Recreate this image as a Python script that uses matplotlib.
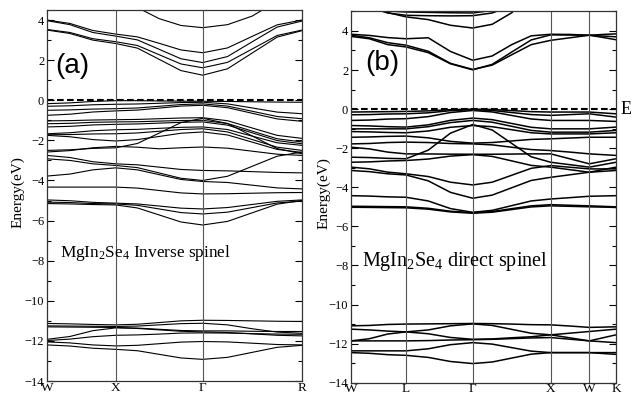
import numpy as np
import matplotlib
matplotlib.use('Agg')
import matplotlib.pyplot as plt
from matplotlib.ticker import MultipleLocator

plt.rcParams['font.family'] = ['Liberation Serif', 'DejaVu Serif']
plt.rcParams['mathtext.fontset'] = 'custom'
plt.rcParams['mathtext.rm'] = 'Liberation Serif'
plt.rcParams['mathtext.it'] = 'Liberation Serif:italic'

# ---------------- Panel (a): inverse spinel ----------------
labels_a = ['W', 'X', 'Γ', 'R']
nodes_a = [0.0, 0.687, 1.557, 2.55]
nseg_a = [3, 4, 4]

cond_a1 = [3.50, 3.33, 3.00, 2.83, 2.60, 2.04, 1.48, 1.25, 1.57, 2.36, 3.15, 3.47]
cond_a2 = [3.53, 3.38, 3.07, 2.92, 2.73, 2.27, 1.81, 1.62, 1.89, 2.56, 3.23, 3.50]
cond_a3 = [3.97, 3.77, 3.38, 3.20, 3.01, 2.54, 2.07, 1.88, 2.18, 2.92, 3.65, 3.95]
cond_a4 = [4.00, 3.83, 3.48, 3.30, 3.16, 2.84, 2.51, 2.37, 2.61, 3.19, 3.76, 4.00]
cond_a5 = [6.20, 6.10, 5.80, 5.40, 4.62, 4.07, 3.73, 3.62, 3.77, 4.20, 4.95, 5.80]

val_a1 = [-0.17, -0.13, -0.06, -0.02, -0.02, -0.035, -0.045, -0.05, -0.06, -0.075, -0.09, -0.10]
val_a2 = [-0.30, -0.275, -0.225, -0.20, -0.185, -0.15, -0.115, -0.10, -0.18, -0.385, -0.59, -0.67]
val_a3 = [-0.50, -0.48, -0.44, -0.42, -0.385, -0.30, -0.215, -0.18, -0.29, -0.55, -0.81, -0.92]
val_a4 = [-0.75, -0.695, -0.585, -0.53, -0.49, -0.39, -0.29, -0.25, -0.37, -0.65, -0.93, -1.05]
val_a5 = [-1.03, -1.015, -0.985, -0.97, -0.955, -0.92, -0.885, -0.87, -1.02, -1.385, -1.75, -1.90]
val_a6 = [-1.17, -1.15, -1.10, -1.08, -1.07, -1.04, -1.01, -1.00, -1.16, -1.54, -1.92, -2.08]
val_a7 = [-1.33, -1.30, -1.23, -1.20, -1.18, -1.14, -1.10, -1.08, -1.24, -1.625, -2.01, -2.17]
val_a8 = [-1.67, -1.62, -1.52, -1.47, -1.45, -1.40, -1.35, -1.33, -1.46, -1.79, -2.12, -2.25]
val_a9 = [-1.72, -1.71, -1.68, -1.67, -1.63, -1.545, -1.46, -1.42, -1.58, -1.96, -2.34, -2.50]
val_a10 = [-1.75, -1.82, -1.96, -2.03, -1.96, -1.805, -1.645, -1.58, -1.73, -2.09, -2.45, -2.60]
val_a11 = [-2.50, -2.47, -2.40, -2.37, -2.155, -1.635, -1.115, -0.90, -1.16, -1.785, -2.41, -2.67]
val_a12 = [-2.58, -2.51, -2.37, -2.30, -2.34, -2.42, -2.37, -2.33, -2.39, -2.54, -2.69, -2.75]
val_a13 = [-2.75, -2.855, -3.065, -3.17, -3.22, -3.335, -3.45, -3.50, -3.52, -3.56, -3.60, -3.62]
val_a14 = [-2.92, -3.00, -3.17, -3.25, -3.36, -3.625, -3.89, -4.00, -3.79, -3.29, -2.79, -2.58]
val_a15 = [-3.78, -3.68, -3.47, -3.37, -3.47, -3.71, -3.95, -4.05, -4.10, -4.235, -4.37, -4.42]
val_a16 = [-4.33, -4.33, -4.33, -4.33, -4.38, -4.50, -4.62, -4.67, -4.66, -4.635, -4.61, -4.60]
val_a17 = [-4.97, -5.01, -5.09, -5.13, -5.17, -5.275, -5.38, -5.42, -5.35, -5.195, -5.04, -4.97]
val_a18 = [-5.08, -5.10, -5.15, -5.17, -5.24, -5.42, -5.60, -5.67, -5.58, -5.35, -5.12, -5.03]
val_a19 = [-5.15, -5.17, -5.20, -5.22, -5.37, -5.72, -6.07, -6.22, -6.04, -5.61, -5.18, -5.00]

semi_a1 = [-11.13, -11.15, -11.18, -11.20, -11.17, -11.085, -11.00, -10.97, -10.98, -11.00, -11.02, -11.03]
semi_a2 = [-11.25, -11.26, -11.27, -11.28, -11.26, -11.20, -11.14, -11.12, -11.20, -11.395, -11.56, -11.62]
semi_a3 = [-11.30, -11.31, -11.32, -11.33, -11.36, -11.42, -11.48, -11.50, -11.50, -11.52, -11.53, -11.53]
semi_a4 = [-11.92, -11.78, -11.49, -11.35, -11.38, -11.45, -11.52, -11.55, -11.58, -11.65, -11.72, -11.75]
semi_a5 = [-11.98, -11.91, -11.79, -11.72, -11.70, -11.66, -11.61, -11.60, -11.61, -11.635, -11.66, -11.67]
semi_a6 = [-12.05, -12.10, -12.20, -12.25, -12.22, -12.14, -12.06, -12.03, -12.05, -12.115, -12.18, -12.20]
semi_a7 = [-12.20, -12.255, -12.365, -12.42, -12.49, -12.67, -12.85, -12.92, -12.82, -12.57, -12.32, -12.22]

bands_a = [cond_a1, cond_a2, cond_a3, cond_a4, cond_a5,
           val_a1, val_a2, val_a3, val_a4, val_a5, val_a6, val_a7, val_a8, val_a9,
           val_a10, val_a11, val_a12, val_a13, val_a14, val_a15, val_a16, val_a17,
           val_a18, val_a19,
           semi_a1, semi_a2, semi_a3, semi_a4, semi_a5, semi_a6, semi_a7]

# ---------------- Panel (b): direct spinel ----------------
labels_b = ['W', 'L', 'Γ', 'X', 'W', 'K']
nodes_b = [0.0, 0.55, 1.217, 1.997, 2.383, 2.65]
nseg_b = [3, 3, 4, 2, 2]

cond_b1 = [3.72, 3.60, 3.30, 3.18, 2.89, 2.32, 2.01, 2.29, 2.92, 3.54, 3.80, 3.79, 3.78, 3.67, 3.55]
cond_b2 = [3.78, 3.65, 3.40, 3.27, 2.96, 2.34, 2.03, 2.25, 2.78, 3.30, 3.52, 3.65, 3.78, 3.74, 3.70]
cond_b3 = [3.83, 3.77, 3.66, 3.60, 3.65, 2.95, 2.50, 2.72, 3.30, 3.75, 3.83, 3.82, 3.78, 3.82, 3.85]
cond_b4 = [5.60, 5.38, 4.94, 4.72, 4.58, 4.29, 4.15, 4.34, 4.93, 5.90, 6.50, 6.50, 6.50, 6.50, 6.50]
cond_b5 = [5.40, 5.20, 4.92, 4.80, 4.78, 4.77, 4.78, 4.92, 5.30, 5.90, 6.30, 6.30, 6.30, 6.30, 6.30]
cond_b6 = [5.30, 5.15, 5.02, 4.97, 4.95, 4.93, 4.92, 5.05, 5.50, 6.00, 6.50, 6.50, 6.50, 6.50, 6.50]

val_b1 = [-0.15, -0.14, -0.13, -0.12, -0.09, -0.03, 0.00, -0.02, -0.075, -0.13, -0.15, -0.15, -0.15, -0.195, -0.24]
val_b2 = [-0.29, -0.28, -0.25, -0.24, -0.19, -0.08, -0.03, -0.07, -0.175, -0.28, -0.32, -0.28, -0.24, -0.325, -0.41]
val_b3 = [-0.58, -0.56, -0.51, -0.49, -0.385, -0.175, -0.07, -0.145, -0.325, -0.505, -0.58, -0.58, -0.58, -0.605, -0.63]
val_b4 = [-0.84, -0.86, -0.90, -0.92, -0.805, -0.575, -0.46, -0.54, -0.735, -0.93, -1.01, -1.01, -1.01, -0.965, -0.92]
val_b5 = [-1.01, -1.01, -1.01, -1.01, -0.90, -0.69, -0.58, -0.67, -0.88, -1.09, -1.18, -1.18, -1.18, -1.135, -1.09]
val_b6 = [-1.15, -1.165, -1.195, -1.21, -1.12, -0.93, -0.84, -0.90, -1.055, -1.21, -1.27, -1.27, -1.27, -1.24, -1.21]
val_b7 = [-1.44, -1.425, -1.395, -1.38, -1.47, -1.65, -1.74, -1.71, -1.63, -1.55, -1.52, -1.48, -1.44, -1.44, -1.44]
val_b8 = [-1.78, -1.76, -1.71, -1.69, -1.71, -1.76, -1.78, -1.83, -1.95, -2.07, -2.12, -2.20, -2.29, -2.33, -2.37]
val_b9 = [-1.95, -2.035, -2.20, -2.29, -2.295, -2.305, -2.31, -2.31, -2.30, -2.29, -2.29, -2.545, -2.80, -2.67, -2.54]
val_b10 = [-2.46, -2.48, -2.52, -2.54, -2.10, -1.23, -0.79, -1.07, -1.755, -2.44, -2.72, -2.845, -2.97, -2.845, -2.72]
val_b11 = [-2.72, -2.70, -2.655, -2.63, -2.555, -2.405, -2.33, -2.42, -2.65, -2.88, -2.97, -3.10, -3.23, -3.10, -2.97]
val_b12 = [-2.97, -3.055, -3.225, -3.31, -3.45, -3.74, -3.88, -3.74, -3.385, -3.03, -2.89, -2.975, -3.06, -3.06, -3.06]
val_b13 = [-3.14, -3.20, -3.31, -3.37, -3.67, -4.26, -4.56, -4.40, -4.025, -3.65, -3.49, -3.36, -3.23, -3.185, -3.14]
val_b14 = [-4.43, -4.45, -4.49, -4.51, -4.70, -5.09, -5.28, -5.18, -4.94, -4.70, -4.60, -4.53, -4.46, -4.445, -4.43]
val_b15 = [-4.97, -4.98, -4.99, -5.00, -5.075, -5.225, -5.30, -5.24, -5.095, -4.95, -4.89, -4.92, -4.95, -4.975, -5.00]
val_b16 = [-5.02, -5.03, -5.04, -5.05, -5.12, -5.26, -5.33, -5.275, -5.14, -5.005, -4.95, -4.975, -5.00, -5.015, -5.03]

semi_b1 = [-11.09, -11.07, -11.02, -11.00, -10.99, -10.98, -10.97, -10.98, -11.0, -11.03, -11.04, -11.10, -11.17, -11.155, -11.14]
semi_b2 = [-11.26, -11.30, -11.36, -11.40, -11.30, -11.09, -10.99, -11.07, -11.27, -11.47, -11.55, -11.465, -11.38, -11.32, -11.26]
semi_b3 = [-11.86, -11.75, -11.51, -11.40, -11.495, -11.685, -11.78, -11.76, -11.70, -11.65, -11.55, -11.705, -11.86, -11.705, -11.55]
semi_b4 = [-11.86, -11.86, -11.86, -11.86, -11.845, -11.815, -11.80, -11.78, -11.745, -11.71, -11.69, -11.775, -11.86, -11.905, -11.95]
semi_b5 = [-12.37, -12.37, -12.37, -12.37, -12.265, -12.055, -11.95, -12.025, -12.205, -12.385, -12.46, -12.46, -12.46, -12.46, -12.46]
semi_b6 = [-12.46, -12.495, -12.565, -12.60, -12.705, -12.915, -13.02, -12.94, -12.74, -12.54, -12.46, -12.46, -12.46, -12.505, -12.55]

bands_b = [cond_b1, cond_b2, cond_b3, cond_b4, cond_b5, cond_b6,
           val_b1, val_b2, val_b3, val_b4, val_b5, val_b6, val_b7, val_b8,
           val_b9, val_b10, val_b11, val_b12, val_b13, val_b14, val_b15, val_b16,
           semi_b1, semi_b2, semi_b3, semi_b4, semi_b5, semi_b6]


def kpath(nodes, nseg):
    parts = [nodes[0]]
    for i, n in enumerate(nseg):
        seg = np.linspace(nodes[i], nodes[i + 1], n + 1)[1:]
        parts.extend(seg)
    return np.array(parts)


def draw_panel(ax, nodes, nseg, bands, labels, ytop, lw, tag, tag_xy, title, title_xy,
               title_fs, ylab_xy):
    k = kpath(nodes, nseg)
    for b in bands:
        ax.plot(k, b, color='black', lw=lw, solid_capstyle='butt')
    for x in nodes[1:-1]:
        ax.axvline(x, color='#555555', lw=0.8)
    ax.axhline(0, color='black', lw=1.5, ls=(0, (3.2, 1.6)))
    ax.set_xlim(nodes[0], nodes[-1])
    ax.set_ylim(-14, ytop)
    ax.set_xticks(nodes)
    ax.set_xticklabels(labels, fontsize=9.5)
    ax.tick_params(axis='x', length=0, pad=0.5)
    ax.yaxis.set_major_locator(MultipleLocator(2))
    ax.yaxis.set_minor_locator(MultipleLocator(1))
    ax.tick_params(axis='y', which='both', direction='in', left=True, right=True,
                   labelsize=9, pad=2)
    ax.tick_params(axis='y', which='major', length=5, width=0.8)
    ax.tick_params(axis='y', which='minor', length=3, width=0.8)
    for s in ax.spines.values():
        s.set_linewidth(0.9)
        s.set_color('#333333')
    ax.set_ylabel('Energy(eV)', fontsize=11)
    ax.yaxis.set_label_coords(*ylab_xy)
    ax.text(tag_xy[0], tag_xy[1], tag, transform=ax.transAxes, fontsize=20,
            family='Liberation Sans', ha='center', va='center')
    ax.text(title_xy[0], title_xy[1], title, transform=ax.transAxes, fontsize=title_fs,
            ha='left', va='baseline')


fig = plt.figure(figsize=(6.32, 3.93), dpi=100)
axA = fig.add_axes([0.0744, 0.0305, 0.4034, 0.944])
axB = fig.add_axes([0.5554, 0.0262, 0.4193, 0.9448])

draw_panel(axA, nodes_a, nseg_a, bands_a, labels_a, 4.5, 0.8, '(a)', (0.098, 0.85),
           r'MgIn$_2$Se$_4$ Inverse spinel', (0.052, 0.335), 12.4, (-0.09, 0.51))
draw_panel(axB, nodes_b, nseg_b, bands_b, labels_b, 5.0, 1.1, '(b)', (0.117, 0.86),
           r'MgIn$_2$Se$_4$ direct spinel', (0.042, 0.315), 14.5, (-0.079, 0.51))

fig.text(0.981, 1 - 108.7 / 393, r'E$_\mathrm{F}$', fontsize=13, ha='left', va='center')

fig.savefig('out.png', dpi=100)
